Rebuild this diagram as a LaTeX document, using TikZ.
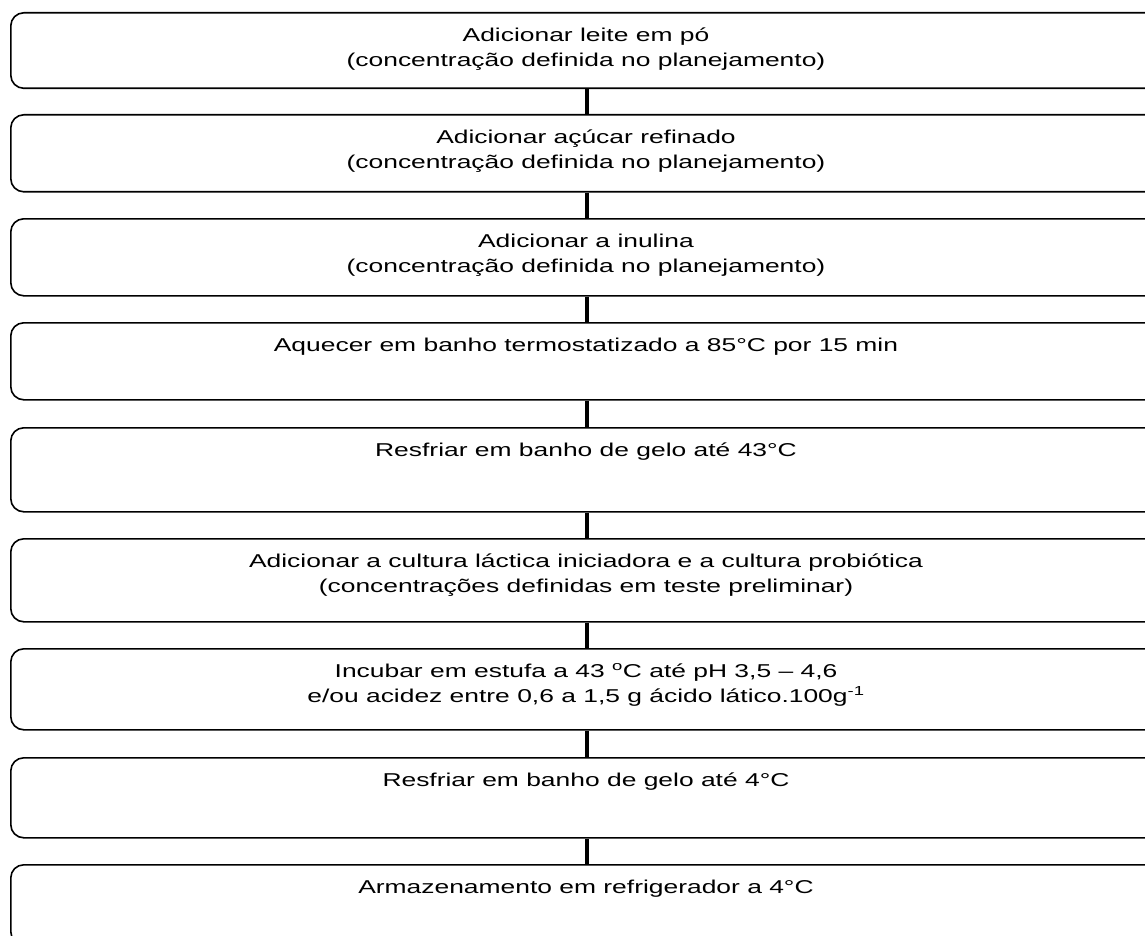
\documentclass[tikz,border=0pt]{standalone}
\usepackage{fontspec}
\newfontfamily\arialx[FakeStretch=1.42]{Liberation Sans}
\begin{document}
\begin{tikzpicture}[x=1pt,y=-1pt,
  box/.style={draw=black, line width=1.6pt, rounded corners=13pt, minimum width=1152pt, inner sep=0pt, anchor=north west},
  txt/.style={anchor=north, inner sep=0pt, align=center, font=\arialx\fontsize{18.6}{25}\selectfont},
  conn/.style={draw=black, line width=4pt}]
\useasboundingbox (0,0) rectangle (1145,936);
\clip (0,0) rectangle (1145,936);
\fill[white] (0,0) rectangle (1145,936);
\node[box, minimum height=75.5pt] (b1) at (10,12) {};
\node[box, minimum height=77pt] (b2) at (10,114) {};
\node[box, minimum height=77pt] (b3) at (10,218) {};
\node[box, minimum height=77pt] (b4) at (10,322) {};
\node[box, minimum height=84pt] (b5) at (10,427) {};
\node[box, minimum height=83pt] (b6) at (10,538) {};
\node[box, minimum height=81pt] (b7) at (10,648) {};
\node[box, minimum height=80pt] (b8) at (10,757) {};
\node[box, minimum height=80pt] (b9) at (10,864) {};
\node[txt] (t1) at (586,23.5) {\strut Adicionar leite em pó\\\strut (concentração definida no planejamento)};
\node[txt] (t2) at (586,125.5) {\strut Adicionar açúcar refinado\\\strut (concentração definida no planejamento)};
\node[txt] (t3) at (586,229.5) {\strut Adicionar a inulina\\\strut (concentração definida no planejamento)};
\node[txt] (t4) at (586,333.5) {\strut Aquecer em banho termostatizado a 85°C por 15 min};
\node[txt] (t5) at (586,438.5) {\strut Resfriar em banho de gelo até 43°C};
\node[txt] (t6) at (586,549.5) {\strut Adicionar a cultura láctica iniciadora e a cultura probiótica\\\strut (concentrações definidas em teste preliminar)};
\node[txt] (t7) at (586,659.5) {\strut Incubar em estufa a 43 \textsuperscript{o}C até pH 3,5 – 4,6\\\strut e/ou acidez entre 0,6 a 1,5 g ácido lático.100g\textsuperscript{-1}};
\node[txt] (t8) at (586,768.5) {\strut Resfriar em banho de gelo até 4°C};
\node[txt] (t9) at (586,875.5) {\strut Armazenamento em refrigerador a 4°C};
\draw[conn] (b1.south) -- (b2.north);
\draw[conn] (b2.south) -- (b3.north);
\draw[conn] (b3.south) -- (b4.north);
\draw[conn] (b4.south) -- (b5.north);
\draw[conn] (b5.south) -- (b6.north);
\draw[conn] (b6.south) -- (b7.north);
\draw[conn] (b7.south) -- (b8.north);
\draw[conn] (b8.south) -- (b9.north);
\end{tikzpicture}
\end{document}
